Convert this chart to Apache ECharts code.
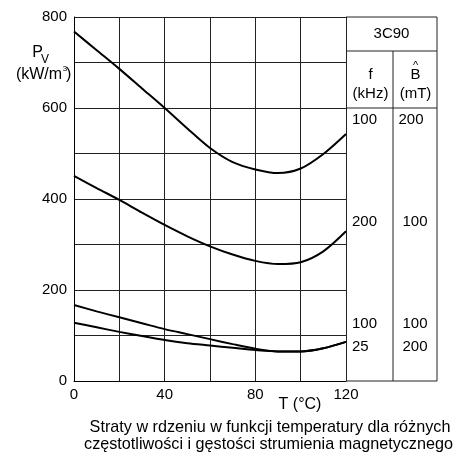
<!DOCTYPE html>
<html>
<head>
<meta charset="utf-8">
<script src="https://cdn.jsdelivr.net/npm/echarts@6/dist/echarts.min.js"></script>
<style>
html,body{margin:0;padding:0;background:#fff;}
#c{width:457px;height:459px;}
</style>
</head>
<body>
<div id="c"></div>
<script>
// ---- data ----
const temps = [0, 10, 20, 30, 40, 50, 60, 70, 80, 90, 100, 110, 120];
const pv100k200mT = [768, 727, 686, 643, 600, 555, 512, 481, 465, 457, 467, 499, 543];
const pv200k100mT = [451, 424, 398, 370, 343, 318, 296, 278, 264, 257, 261, 285, 329];
const pv100k100mT = [167, 153, 140, 127, 114, 103, 92, 81, 71, 65, 65, 72, 86];
const pv25k200mT  = [128, 118, 108, 99, 90, 83, 78, 73, 68, 65, 65, 72, 86];
const yTickLabels = [0, 200, 400, 600, 800];
const xTickLabels = [0, 40, 80, 120];
const tableTitle = '3C90';
const tableFreq = ['100', '200', '100', '25'];
const tableB = ['200', '100', '100', '200'];

const FONT = '"Liberation Sans", Arial, Helvetica, sans-serif';
const chart = echarts.init(document.getElementById('c'), null, {renderer: 'canvas'});

function mk(vals) { return temps.map((t, i) => [t, vals[i]]); }
function lineSeries(vals) {
  return {
    type: 'line', data: mk(vals), smooth: 0.3, symbol: 'none',
    lineStyle: {color: '#000', width: 2}, silent: true, animation: false
  };
}

chart.setOption({
  animation: false,
  backgroundColor: '#fff',
  grid: {left: 74, right: 111, top: 17, bottom: 78, containLabel: false, outerBoundsMode: 'none'},
  xAxis: {
    type: 'value', min: 0, max: 120, interval: 20,
    axisLine: {show: true, lineStyle: {color: '#000', width: 1}},
    axisTick: {show: false},
    splitLine: {show: true, lineStyle: {color: '#222', width: 1}},
    axisLabel: {
      color: '#000', fontSize: 15, fontFamily: FONT, margin: 6,
      formatter: v => xTickLabels.includes(v) ? String(v) : ''
    }
  },
  yAxis: {
    type: 'value', min: 0, max: 800, interval: 100,
    axisLine: {show: true, lineStyle: {color: '#000', width: 1}},
    axisTick: {show: false},
    splitLine: {show: true, lineStyle: {color: '#222', width: 1}},
    axisLabel: {
      color: '#000', fontSize: 15, fontFamily: FONT, margin: 7,
      formatter: v => yTickLabels.includes(v) ? String(v) : ''
    }
  },
  series: [
    lineSeries(pv100k200mT),
    lineSeries(pv200k100mT),
    lineSeries(pv100k100mT),
    lineSeries(pv25k200mT)
  ]
});

// ---- table and annotations, anchored to the axes ----
const pTR = chart.convertToPixel({gridIndex: 0}, [120, 800]);
const pBR = chart.convertToPixel({gridIndex: 0}, [120, 0]);
const p600 = chart.convertToPixel({gridIndex: 0}, [120, 600]);
const x0 = pTR[0], yTop = pTR[1], yBot = pBR[1], y600 = p600[1];
const col1W = 47, col2W = 44;
const xMid = x0 + col1W, xR = xMid + col2W;
const yHead = yTop + 34;
const ls = {stroke: '#222', lineWidth: 1};
function ln(x1, y1, x2, y2) {
  return {type: 'line', shape: {x1, y1, x2, y2}, style: ls, silent: true};
}
function tx(text, x, y, opts) {
  return {type: 'text', x, y, silent: true, style: Object.assign({
    text, fill: '#000', font: '15px ' + FONT, textAlign: 'center', textVerticalAlign: 'middle'
  }, opts || {})};
}
const rowY = [120, 222, 324, 347];
const els = [
  ln(x0, yTop, xR, yTop),
  ln(xR, yTop, xR, yBot),
  ln(x0, yBot, xR, yBot),
  ln(x0, yHead, xR, yHead),
  ln(x0, y600, xR, y600),
  ln(xMid, yHead, xMid, yBot),
  tx(tableTitle, (x0 + xR) / 2, 34),
  tx('f', (x0 + xMid) / 2 + 1, 75),
  tx('(kHz)', (x0 + xMid) / 2 + 1, 94),
  tx('B', (xMid + xR) / 2 + 0.5, 75),
  tx('^', (xMid + xR) / 2 + 0.5, 66, {font: '11px ' + FONT}),
  tx('(mT)', (xMid + xR) / 2 + 0.5, 94),
  // axis titles
  tx('P', 37.5, 53, {font: '16px ' + FONT}),
  tx('V', 45, 60, {font: '12px ' + FONT}),
  tx('(kW/m', 39, 75, {font: '16px ' + FONT}),
  tx('3', 65, 69, {font: '8px ' + FONT}),
  tx(')', 68.7, 75, {font: '16px ' + FONT}),
  tx('T (°C)', 300, 405, {font: '16px ' + FONT}),
  tx('Straty w rdzeniu w funkcji temperatury dla różnych', 270, 428, {font: '16.2px ' + FONT}),
  tx('częstotliwości i gęstości strumienia magnetycznego', 268.5, 445, {font: '16.2px ' + FONT})
];
tableFreq.forEach((t, i) => els.push(tx(t, 352, rowY[i], {textAlign: 'left'})));
tableB.forEach((t, i) => els.push(tx(t, (xMid + xR) / 2 + (i === 0 ? -4 : 0), rowY[i])));
chart.setOption({graphic: {elements: els}});
</script>
</body>
</html>
